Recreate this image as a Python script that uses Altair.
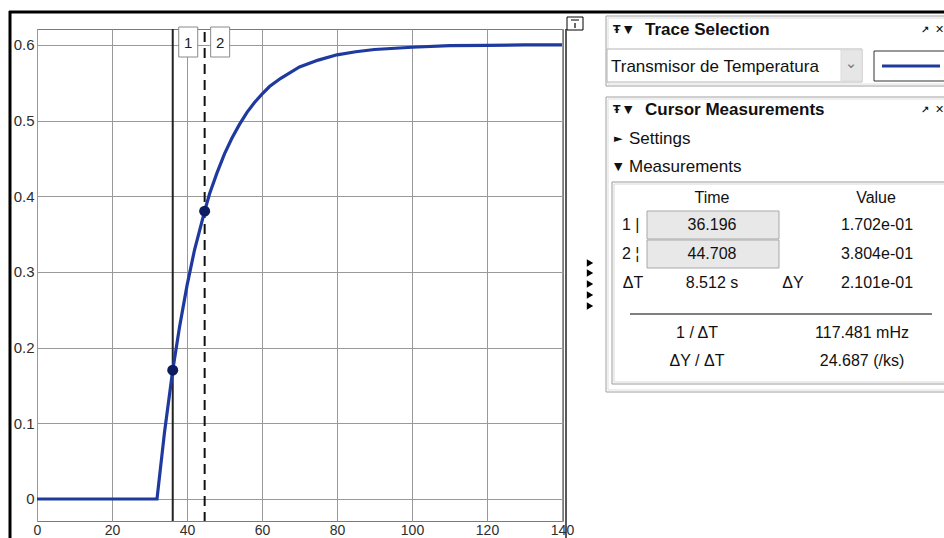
import altair as alt
import pandas as pd

# ---------------- data ----------------
time_s = [0, 32, 34, 36.196, 38, 40, 42, 44.708, 46, 48, 50, 52, 54, 56, 58, 60, 62,
          65, 70, 75, 80, 85, 90, 100, 110, 120, 130, 140]
temp_v = [0, 0, 0.088, 0.1702, 0.227, 0.282, 0.329, 0.3804, 0.403, 0.431, 0.456, 0.477,
          0.495, 0.511, 0.524, 0.535, 0.545, 0.556, 0.571, 0.580, 0.587, 0.591, 0.594,
          0.597, 0.599, 0.5995, 0.600, 0.600]

cursor_ids = ["1", "2"]
cursor_t = [36.196, 44.708]
cursor_v = [0.1702, 0.3804]

x_ticks = [0, 20, 40, 60, 80, 100, 120, 140]
y_ticks = [0, 0.1, 0.2, 0.3, 0.4, 0.5, 0.6]

trace_name = "Transmisor de Temperatura"
panel1_title = "Trace Selection"
panel2_title = "Cursor Measurements"
head_time, head_value = "Time", "Value"
row_labels = ["1 |", "2 ¦"]
row_times = ["36.196", "44.708"]
row_values = ["1.702e-01", "3.804e-01"]
dt_label, dt_value = "ΔT", "8.512 s"
dy_label, dy_value = "ΔY", "2.101e-01"
inv_label, inv_value = "1 / ΔT", "117.481 mHz"
slope_label, slope_value = "ΔY / ΔT", "24.687 (/ks)"

# ---------------- layout ----------------
OX, OY, W, H = 37, 29, 526, 492
FONT = "Liberation Sans"
BLUE = "#1f3a9e"
ONE = alt.Data(values=[{"a": 1}])

curve = pd.DataFrame({"t": time_s, "v": temp_v})
cur = pd.DataFrame({"id": cursor_ids, "t": cursor_t, "v": cursor_v})

xs = alt.Scale(domain=[0, 140.27], nice=False, zero=False)
ys = alt.Scale(domain=[-0.0291, 0.6211], nice=False, zero=False)
xax = alt.Axis(values=x_ticks, title=None, ticks=False, domain=False, labelPadding=2,
               labelFontSize=14, labelFont=FONT, labelColor="#2e2e2e", grid=True,
               gridColor="#999999", labelFlush=False)
yax = alt.Axis(values=y_ticks, title=None, ticks=False, domain=False, labelPadding=3,
               labelFontSize=15, labelFont=FONT, labelColor="#2e2e2e", grid=True,
               gridColor="#999999", format="~g")


def txt(s, px, py, size=17, weight="normal", align="left", color="#111111", font=FONT):
    return alt.Chart(ONE).mark_text(text=s, fontSize=size, fontWeight=weight, align=align,
                                    baseline="middle", font=font, color=color).encode(
        x=alt.value(px - OX), y=alt.value(py - OY))


def rect(x1, y1, x2, y2, stroke="#a8a8a8", fill="transparent", sw=1):
    return alt.Chart(ONE).mark_rect(stroke=stroke, fill=fill, strokeWidth=sw).encode(
        x=alt.value(x1 - OX), x2=alt.value(x2 - OX), y=alt.value(y1 - OY), y2=alt.value(y2 - OY))


def rule(x1, y1, x2, y2, color="black", sw=1, dash=None):
    kw = dict(color=color, strokeWidth=sw)
    if dash:
        kw["strokeDash"] = dash
    return alt.Chart(ONE).mark_rule(**kw).encode(
        x=alt.value(x1 - OX), x2=alt.value(x2 - OX), y=alt.value(y1 - OY), y2=alt.value(y2 - OY))


base = alt.Chart(curve)

cursor1 = alt.Chart(cur).transform_filter(alt.datum.id == "1").mark_rule(
    color="#222222", strokeWidth=2).encode(x=alt.X("t:Q", scale=xs, axis=xax),
                                          y=alt.value(0), y2=alt.value(H))
cursor2 = alt.Chart(cur).transform_filter(alt.datum.id == "2").mark_rule(
    color="#111111", strokeWidth=2, strokeDash=[10, 6]).encode(
    x=alt.X("t:Q", scale=xs), y=alt.value(3), y2=alt.value(H))

line = base.mark_line(color=BLUE, strokeWidth=3.2, clip=True).encode(
    x=alt.X("t:Q", scale=xs, axis=xax), y=alt.Y("v:Q", scale=ys, axis=yax))

markers = alt.Chart(cur).mark_circle(size=120, color="#0c1c60", opacity=1).encode(
    x=alt.X("t:Q", scale=xs), y=alt.Y("v:Q", scale=ys))

lab_box = alt.Chart(cur).mark_rect(width=19, height=30, xOffset=15.5, fill="white",
                                   stroke="#8a8a8a", strokeWidth=1).encode(
    x=alt.X("t:Q", scale=xs), y=alt.value(13))
lab_txt = alt.Chart(cur).mark_text(fontSize=15, font=FONT, color="#222222", xOffset=15.5,
                                   baseline="middle").encode(
    x=alt.X("t:Q", scale=xs), y=alt.value(14), text="id:N")

ui = [
    # window borders
    rule(9, 12, 944, 12, sw=3),
    rule(10, 11, 10, 538, sw=3),
    rule(566, 29, 566, 538, color="#222222", sw=1.5),
    # expand button
    rect(567, 17, 583, 30, stroke="black", fill="white"),
    rule(571, 20, 579, 20, sw=1),
    rule(575, 23, 575, 28, sw=1.2),
]
for yy in [263, 273, 284, 295, 306]:
    ui.append(alt.Chart(ONE).mark_point(shape="triangle-right", filled=True, size=55,
                                        color="black", opacity=1).encode(
        x=alt.value(590 - OX), y=alt.value(yy - OY)))

ui += [
    # trace selection panel
    rect(606, 16, 950, 86, stroke="#a0a0a0", fill="white"),
    rect(608, 18, 950, 84, stroke="#dedede"),
    txt("Ŧ", 613, 30, size=11, weight="bold", font="DejaVu Sans"),
    txt("▼", 624, 30, size=11, font="DejaVu Sans"),
    txt(panel1_title, 645, 30, size=17, weight="bold"),
    txt("↗", 921, 30, size=10, weight="bold", font="DejaVu Sans"),
    txt("✕", 935, 30, size=11, weight="bold", font="DejaVu Sans"),
    rect(607, 49, 862, 82, stroke="#b4b4b4", fill="white"),
    rect(841, 50, 862, 81, stroke="#dcdcdc", fill="#e6e6e6"),
    txt("⌄", 851, 63, size=15, align="center", color="#777777", font="DejaVu Sans"),
    txt(trace_name, 611, 67, size=17),
    rect(874, 51, 952, 81, stroke="#333333", fill="white"),
    rule(882, 66, 940, 66, color=BLUE, sw=3),
    # cursor measurements panel
    rect(606, 97, 950, 392, stroke="#a0a0a0", fill="white"),
    rect(608, 99, 950, 390, stroke="#dedede"),
    txt("Ŧ", 613, 110, size=11, weight="bold", font="DejaVu Sans"),
    txt("▼", 624, 110, size=11, font="DejaVu Sans"),
    txt(panel2_title, 645, 110, size=17, weight="bold"),
    txt("↗", 921, 110, size=10, weight="bold", font="DejaVu Sans"),
    txt("✕", 935, 110, size=11, weight="bold", font="DejaVu Sans"),
    txt("►", 614, 139, size=11, font="DejaVu Sans"),
    txt("Settings", 629, 139, size=17),
    txt("▼", 614, 167, size=11, font="DejaVu Sans"),
    txt("Measurements", 629, 167, size=17),
    rect(612, 182, 950, 384, stroke="#9a9a9a"),
    rect(614, 184, 950, 382, stroke="#d8d8d8"),
    txt(head_time, 712, 198, size=16, align="center"),
    txt(head_value, 876, 198, size=16, align="center"),
]
for i, ry in enumerate([225, 254]):
    ui += [
        rect(647, ry - 14, 779, ry + 14, stroke="#a8a8a8", fill="#e8e8e8"),
        txt(row_labels[i], 622, ry, size=16),
        txt(row_times[i], 712, ry, size=16, align="center"),
        txt(row_values[i], 877, ry, size=16, align="center"),
    ]
ui += [
    txt(dt_label, 633, 283, size=16, align="center"),
    txt(dt_value, 712, 283, size=16, align="center"),
    txt(dy_label, 793, 283, size=16, align="center"),
    txt(dy_value, 877, 283, size=16, align="center"),
    rule(630, 314, 932, 314, sw=1.2),
    txt(inv_label, 697, 333, size=16, align="center"),
    txt(inv_value, 862, 333, size=16, align="center"),
    txt(slope_label, 697, 361, size=16, align="center"),
    txt(slope_value, 862, 361, size=16, align="center"),
]

chart = alt.layer(cursor1, cursor2, line, markers, lab_box, lab_txt, *ui).properties(
    width=W, height=H,
    padding={"left": OX, "top": OY, "right": 944 - OX - W, "bottom": 538 - OY - H},
    autosize=alt.AutoSizeParams(type="none"),
    background="white",
).configure_view(stroke="#7a7a7a", strokeWidth=1)

chart.save("out.html", embed_options={"renderer": "svg", "actions": False})
